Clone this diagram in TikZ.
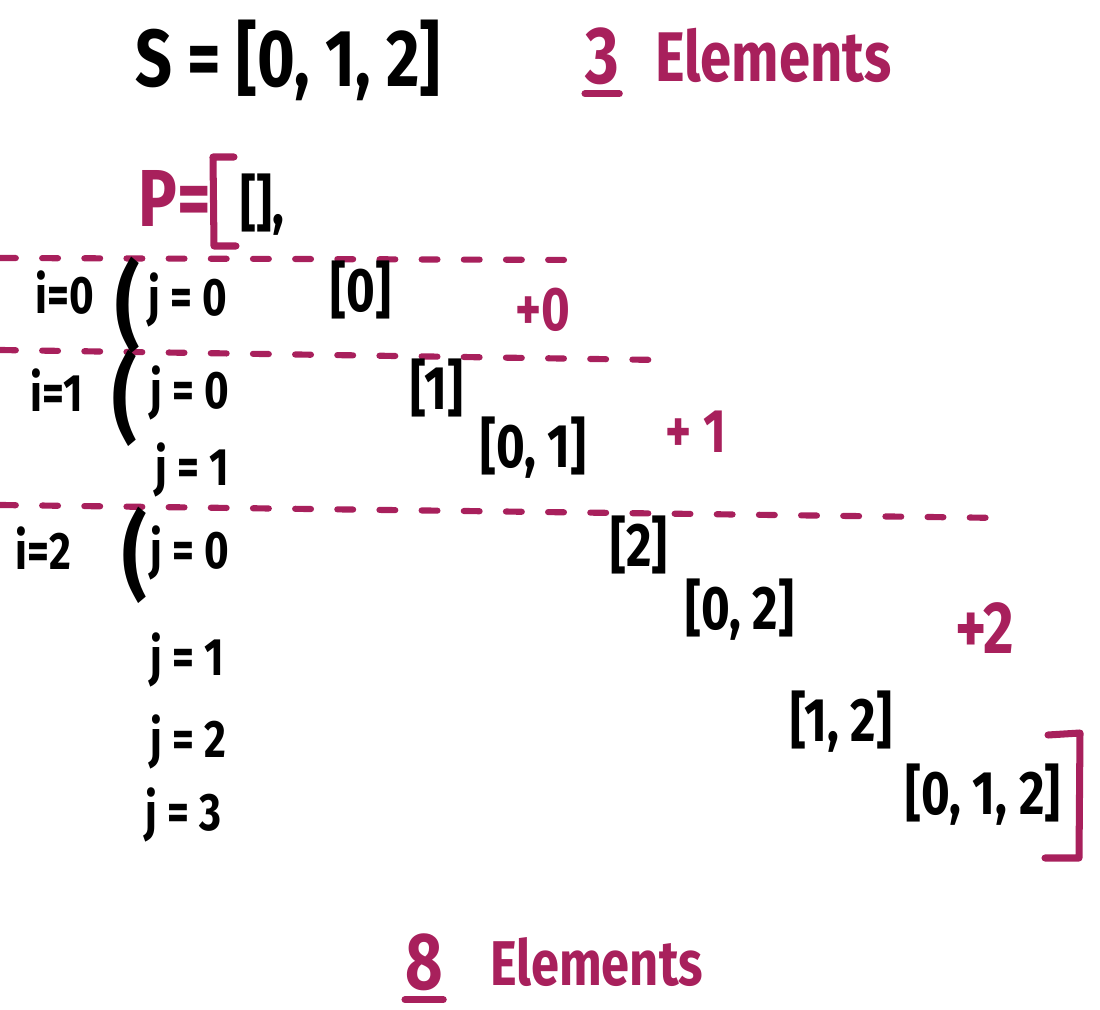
\documentclass[tikz,border=0pt]{standalone}
\usepackage{fontspec}
\setmainfont{Fira Sans}[FakeStretch=0.8]
\definecolor{marker}{RGB}{168,32,92}
\tikzset{
  ink/.style={inner sep=0pt, anchor=west, font=\fontsize{30}{32}\selectfont\bfseries},
  setink/.style={ink, font=\fontsize{35}{38}\selectfont\bfseries},
  bigink/.style={ink, font=\fontsize{46}{50}\selectfont\bfseries},
  parenink/.style={ink, font=\fontsize{54}{56}\selectfont\bfseries},
  pinkink/.style={text=marker},
  divider/.style={marker, line width=3.5pt, line cap=round, dash pattern=on 9pt off 15pt},
  bigbracket/.style={marker, line width=4pt, line cap=round, line join=round},
  underbar/.style={marker, line width=4pt, line cap=round}
}
\begin{document}
\begin{tikzpicture}[x=0.02cm, y=-0.02cm]

\useasboundingbox (0,0) rectangle (1100,1010);

% ================= set S =================

\node[bigink] (S) at (135,60) {S = [0, 1, 2]};
\node[bigink, pinkink] (three) at (585,56) {3};
\node[bigink, pinkink, font=\fontsize{40}{44}\selectfont\bfseries] (elems3) at (655,55) {Elements};
\draw[underbar] ([yshift=-5pt]three.south west) -- ([yshift=-5pt]three.south east);

% ================= power set P =================

\node[bigink, pinkink, font=\fontsize{46}{50}\selectfont\bfseries] (P) at (138,198) {P=};
\draw[bigbracket] (234,157) -- (213,157) -- (214,246) -- (236,246);
\node[setink] (empty) at (240,205) {[],};

% ================= dividers =================

\coordinate (d1a) at (0,258);   \coordinate (d1b) at (585,260);
\coordinate (d2a) at (0,350);   \coordinate (d2b) at (660,360);
\coordinate (d3a) at (0,505);   \coordinate (d3b) at (1005,518);
\draw[divider] (d1a) -- (d1b);
\draw[divider] (d2a) -- (d2b);
\draw[divider] (d3a) -- (d3b);

% ================= i=0 =================

\node[ink] (i0) at (35,293) {i=0};
\node[parenink] (p0) at (115,305) {(};
\node[ink] (j00) at (148,300) {j = 0};
\node[setink] (b0) at (330,290) {[0]};
\node[setink, pinkink] (plus0) at (515,310) {+0};

% ================= i=1 =================

\node[ink] (i1) at (30,390) {i=1};
\node[parenink] (p1) at (112,398) {(};
\node[ink] (j10) at (150,393) {j = 0};
\node[ink] (j11) at (155,470) {j = 1};
\node[setink] (b1) at (410,388) {[1]};
\node[setink] (b01) at (480,448) {[0, 1]};
\node[setink, pinkink] (plus1) at (665,432) {+ 1};

% ================= i=2 =================

\node[ink] (i2) at (15,548) {i=2};
\node[parenink] (p2) at (122,555) {(};
\node[ink] (j20) at (150,553) {j = 0};
\node[ink] (j21) at (150,660) {j = 1};
\node[ink] (j22) at (150,742) {j = 2};
\node[ink] (j23) at (145,815) {j = 3};
\node[setink] (b2) at (610,545) {[2]};
\node[setink] (b02) at (685,610) {[0, 2]};
\node[setink, pinkink, font=\fontsize{42}{44}\selectfont\bfseries] (plus2) at (955,628) {+2};
\node[setink] (b12) at (790,722) {[1, 2]};
\node[setink] (b012) at (905,795) {[0, 1, 2]};

% closing bracket of P
\draw[bigbracket] (1048,735) -- (1080,733) -- (1079,858) -- (1045,858);

% ================= result =================

\node[bigink, pinkink] (eight) at (405,962) {8};
\node[bigink, pinkink, font=\fontsize{36}{40}\selectfont\bfseries] (elems8) at (490,962) {Elements};
\draw[underbar] ([yshift=-5pt]eight.south west) -- ([yshift=-5pt]eight.south east);

\end{tikzpicture}
\end{document}
